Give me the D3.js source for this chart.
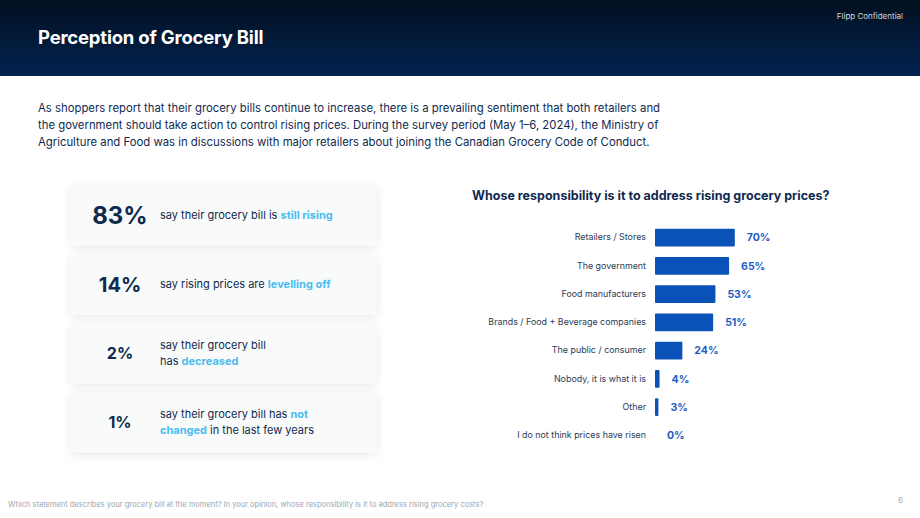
<!DOCTYPE html>
<html>
<head>
<meta charset="utf-8">
<script src="https://cdn.jsdelivr.net/npm/d3@7.9.0/dist/d3.min.js"></script>
<style>
  html, body { margin: 0; padding: 0; background: #fff; }
  svg { display: block; font-family: Inter, "Open Sans", sans-serif; }
</style>
</head>
<body>
<svg id="slide" width="920" height="518"></svg>
<script>
// stat cards (left)
const statValues = ['83%', '14%', '2%', '1%'];
const statSizes = [24, 20, 16, 16];
const statLines = [
  [[['say their grocery bill is ', false], ['still rising', true]]],
  [[['say rising prices are ', false], ['levelling off', true]]],
  [[['say their grocery bill', false]], [['has ', false], ['decreased', true]]],
  [[['say their grocery bill has ', false], ['not', true]], [['changed', true], [' in the last few years', false]]]
];

// bar chart (right)
const categories = [
  'Retailers / Stores',
  'The government',
  'Food manufacturers',
  'Brands / Food + Beverage companies',
  'The public / consumer',
  'Nobody, it is what it is',
  'Other',
  'I do not think prices have risen'
];
const shares = [70, 65, 53, 51, 24, 4, 3, 0];

const introLines = [
  'As shoppers report that their grocery bills continue to increase, there is a prevailing sentiment that both retailers and',
  'the government should take action to control rising prices. During the survey period (May 1–6, 2024), the Ministry of',
  'Agriculture and Food was in discussions with major retailers about joining the Canadian Grocery Code of Conduct.'
];

const navy = '#0f2a4f';
const accent = '#4cbcef';
const barBlue = '#0b52b8';

const svg = d3.select('#slide');
const defs = svg.append('defs');

const grad = defs.append('linearGradient').attr('id', 'hdr').attr('x1', 0).attr('y1', 0).attr('x2', 0).attr('y2', 1);
grad.append('stop').attr('offset', '0%').attr('stop-color', '#02101f');
grad.append('stop').attr('offset', '100%').attr('stop-color', '#022351');

const shadow = defs.append('filter').attr('id', 'shadow').attr('x', '-20%').attr('y', '-30%').attr('width', '140%').attr('height', '160%');
shadow.append('feDropShadow').attr('dx', 0).attr('dy', 2).attr('stdDeviation', 4).attr('flood-color', '#000').attr('flood-opacity', 0.09);

// header
svg.append('rect').attr('x', 0).attr('y', 0).attr('width', 920).attr('height', 76).attr('fill', 'url(#hdr)');
svg.append('text').attr('x', 38).attr('y', 44).attr('fill', '#fff')
  .attr('font-size', 18.5).attr('font-weight', 700).attr('letter-spacing', -0.2)
  .text('Perception of Grocery Bill');
svg.append('text').attr('x', 903).attr('y', 19).attr('fill', '#d0d6de')
  .attr('font-size', 8).attr('text-anchor', 'end').text('Flipp Confidential');

// intro paragraph
svg.append('g').selectAll('text').data(introLines).join('text')
  .attr('x', 38).attr('y', (d, i) => 112 + i * 16.8)
  .attr('fill', navy).attr('font-size', 11.33)
  .text(d => d);

// stat cards
const cardY = d3.scaleBand().domain(d3.range(statValues.length)).range([185, 453]).paddingInner(0.116).paddingOuter(0);
const cards = svg.append('g').selectAll('g').data(statValues).join('g')
  .attr('transform', (d, i) => `translate(70,${cardY(i)})`);
cards.append('rect').attr('width', 307).attr('height', cardY.bandwidth())
  .attr('rx', 5).attr('fill', '#f9fbfa').attr('filter', 'url(#shadow)');
cards.append('text').attr('x', 50).attr('y', cardY.bandwidth() / 2)
  .attr('dy', '0.36em').attr('text-anchor', 'middle')
  .attr('fill', navy).attr('font-weight', 700)
  .attr('font-size', (d, i) => statSizes[i])
  .text(d => d);
cards.each(function(d, i) {
  const lines = statLines[i];
  const h = cardY.bandwidth();
  const t = d3.select(this).append('text').attr('font-size', 11).attr('fill', navy);
  lines.forEach((parts, li) => {
    const y = h / 2 + (li - (lines.length - 1) / 2) * 16;
    parts.forEach(([s, hl], pi) => {
      const ts = t.append('tspan').text(s)
        .attr('fill', hl ? accent : navy)
        .attr('font-weight', hl ? 700 : 400);
      if (pi === 0) ts.attr('x', 90).attr('y', y).attr('dy', '0.35em');
    });
  });
});

// bar chart
svg.append('text').attr('x', 472).attr('y', 200).attr('fill', navy)
  .attr('font-size', 12.5).attr('font-weight', 700)
  .text('Whose responsibility is it to address rising grocery prices?');

const x = d3.scaleLinear().domain([0, 100]).range([655, 769]);
const y = d3.scaleBand().domain(categories).range([223.5, 449.5]).paddingInner(0.38).paddingOuter(0.19);

const chart = svg.append('g');
chart.selectAll('rect').data(categories).join('rect')
  .attr('x', x(0)).attr('y', d => y(d))
  .attr('width', (d, i) => x(shares[i]) - x(0))
  .attr('height', y.bandwidth())
  .attr('rx', 1).attr('fill', barBlue);

const yAxis = chart.append('g').attr('transform', `translate(${x(0) - 9},0)`)
  .call(d3.axisLeft(y).tickSize(0).tickPadding(0));
yAxis.select('.domain').remove();
yAxis.selectAll('text').attr('font-size', 8.9).attr('fill', '#2a3b55')
  .attr('font-family', 'Inter, "Open Sans", sans-serif');

chart.selectAll('text.val').data(categories).join('text').attr('class', 'val')
  .attr('x', (d, i) => x(shares[i]) + 12)
  .attr('y', d => y(d) + y.bandwidth() / 2).attr('dy', '0.36em')
  .attr('fill', '#1d5cc2').attr('font-size', 10.5).attr('font-weight', 700)
  .text((d, i) => shares[i] + '%');

// footer
svg.append('text').attr('x', 8).attr('y', 507).attr('fill', '#a0a6ae').attr('font-size', 7.5)
  .text('Which statement describes your grocery bill at the moment? In your opinion, whose responsibility is it to address rising grocery costs?');
svg.append('text').attr('x', 903).attr('y', 503).attr('fill', '#a0a6ae').attr('font-size', 7.5)
  .attr('text-anchor', 'end').text('6');
</script>
</body>
</html>
